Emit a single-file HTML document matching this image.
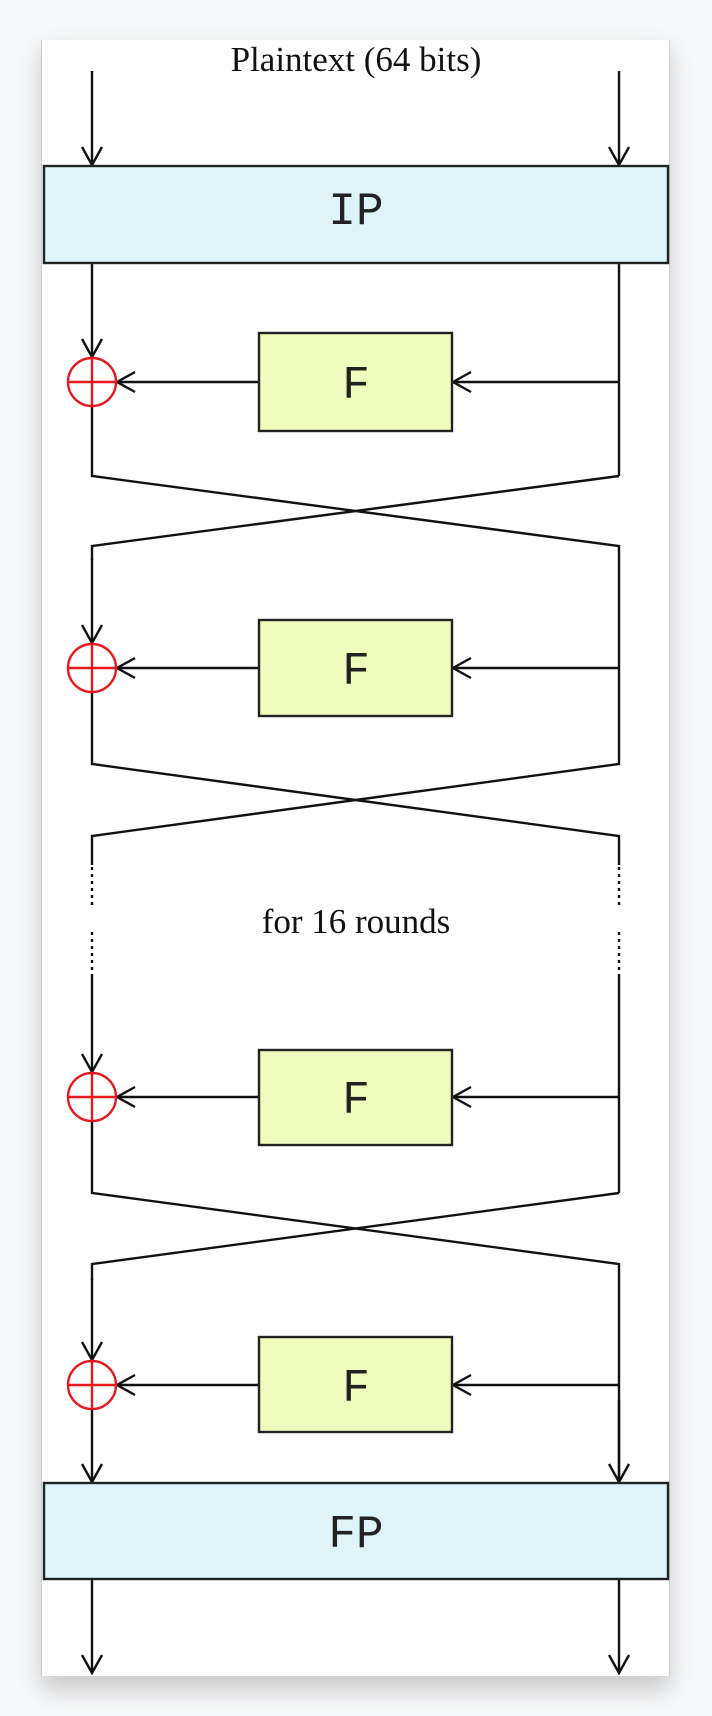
<!DOCTYPE html>
<html><head><meta charset="utf-8"><style>
html,body{margin:0;padding:0;background:#f7f8f9;}
svg{display:block}
</style></head><body>
<svg width="712" height="1716" xmlns="http://www.w3.org/2000/svg">
<defs>
<filter id="sh" x="-10%" y="-10%" width="120%" height="120%"><feGaussianBlur stdDeviation="12"/></filter>
<marker id="a" markerWidth="22" markerHeight="24" refX="20" refY="12" orient="auto" markerUnits="userSpaceOnUse">
<path d="M2,2 L20,12 L2,22" fill="none" stroke="#111" stroke-width="2.4"/></marker>
</defs>
<rect x="41" y="50" width="629" height="1640" fill="#000" opacity="0.18" filter="url(#sh)"/>
<rect x="41" y="40" width="629" height="1636" fill="#fff"/>
<line x1="41.5" y1="40" x2="41.5" y2="1676" stroke="#ccc"/>
<line x1="669.5" y1="40" x2="669.5" y2="1676" stroke="#ccc"/>
<g font-family="Liberation Serif, serif" font-size="35" fill="#111" text-anchor="middle">
<text x="356" y="71">Plaintext (64 bits)</text>
<text x="356" y="933">for 16 rounds</text>
</g>
<g stroke="#111" stroke-width="2.4" fill="none">
<line x1="92" y1="71" x2="92" y2="165" marker-end="url(#a)"/>
<line x1="619" y1="71" x2="619" y2="165" marker-end="url(#a)"/>
<line x1="92" y1="263" x2="92" y2="357" marker-end="url(#a)"/>
<line x1="619" y1="263" x2="619" y2="476"/>
<line x1="619" y1="382" x2="453" y2="382" marker-end="url(#a)"/>
<line x1="259" y1="382" x2="117" y2="382" marker-end="url(#a)"/>
<polyline points="92,407 92,476 619,546 619,668"/>
<polyline points="619,476 92,546 92,560"/>
<line x1="92" y1="558" x2="92" y2="643" marker-end="url(#a)"/>
<line x1="619" y1="668" x2="453" y2="668" marker-end="url(#a)"/>
<line x1="259" y1="668" x2="117" y2="668" marker-end="url(#a)"/>
<polyline points="92,693 92,764 619,836 619,865"/>
<polyline points="619,668 619,764 92,836 92,865"/>
<line x1="92" y1="867" x2="92" y2="905" stroke-dasharray="3,4"/>
<line x1="619" y1="867" x2="619" y2="905" stroke-dasharray="3,4"/>
<line x1="92" y1="932" x2="92" y2="977" stroke-dasharray="3,4"/>
<line x1="619" y1="932" x2="619" y2="977" stroke-dasharray="3,4"/>
<line x1="92" y1="977" x2="92" y2="1072" marker-end="url(#a)"/>
<line x1="619" y1="977" x2="619" y2="1193"/>
<line x1="619" y1="1097" x2="453" y2="1097" marker-end="url(#a)"/>
<line x1="259" y1="1097" x2="117" y2="1097" marker-end="url(#a)"/>
<polyline points="92,1122 92,1193 619,1264 619,1482"/>
<polyline points="619,1193 92,1264 92,1280"/>
<line x1="92" y1="1278" x2="92" y2="1360" marker-end="url(#a)"/>
<line x1="619" y1="1385" x2="453" y2="1385" marker-end="url(#a)"/>
<line x1="259" y1="1385" x2="117" y2="1385" marker-end="url(#a)"/>
<line x1="92" y1="1410" x2="92" y2="1482" marker-end="url(#a)"/>
<line x1="619" y1="1400" x2="619" y2="1482" marker-end="url(#a)"/>
<line x1="92" y1="1579" x2="92" y2="1673" marker-end="url(#a)"/>
<line x1="619" y1="1579" x2="619" y2="1673" marker-end="url(#a)"/>
</g>
<g stroke="#222" stroke-width="2.4">
<rect x="44" y="166" width="624" height="97" fill="#def4f9"/>
<rect x="44" y="1483" width="624" height="96" fill="#def4f9"/>
<rect x="259" y="333" width="193" height="98" fill="#effcbd"/>
<rect x="259" y="620" width="193" height="96" fill="#effcbd"/>
<rect x="259" y="1050" width="193" height="95" fill="#effcbd"/>
<rect x="259" y="1337" width="193" height="95" fill="#effcbd"/>
</g>
<g stroke="#e8191e" stroke-width="2.4" fill="none">
<circle cx="92" cy="382" r="24"/><line x1="68" y1="382" x2="116" y2="382"/><line x1="92" y1="358" x2="92" y2="406"/>
<circle cx="92" cy="668" r="24"/><line x1="68" y1="668" x2="116" y2="668"/><line x1="92" y1="644" x2="92" y2="692"/>
<circle cx="92" cy="1097" r="24"/><line x1="68" y1="1097" x2="116" y2="1097"/><line x1="92" y1="1073" x2="92" y2="1121"/>
<circle cx="92" cy="1385" r="24"/><line x1="68" y1="1385" x2="116" y2="1385"/><line x1="92" y1="1361" x2="92" y2="1409"/>
</g>
<g font-family="Liberation Mono, Courier New, monospace" font-size="46" fill="#222" text-anchor="middle">
<text x="356" y="224">IP</text>
<text x="356" y="1547">FP</text>
<text x="356" y="398">F</text>
<text x="356" y="684">F</text>
<text x="356" y="1113">F</text>
<text x="356" y="1401">F</text>
</g>
</svg>
</body></html>
